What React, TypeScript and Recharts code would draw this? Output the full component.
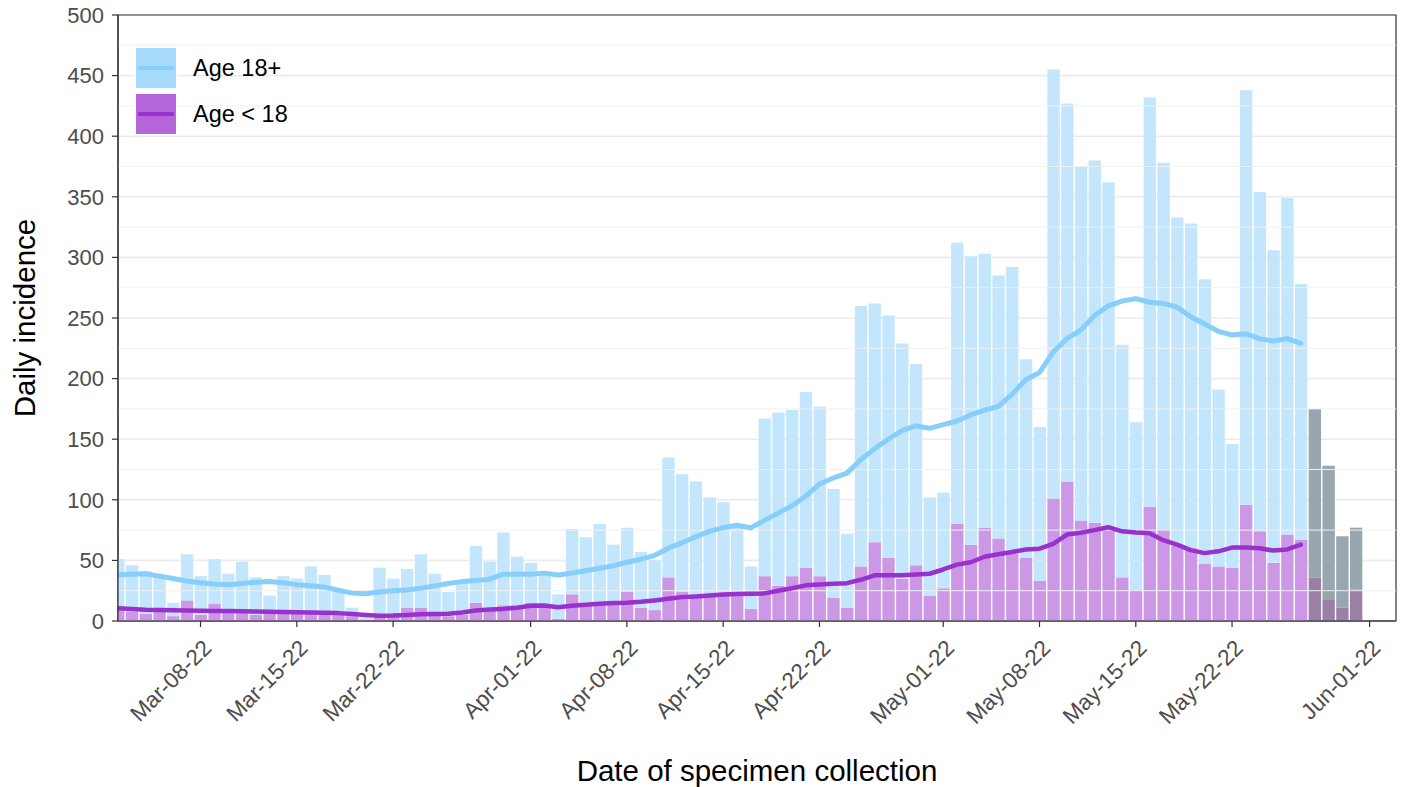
import React from 'react';
import {
  ComposedChart, Bar, Line, XAxis, YAxis, CartesianGrid, ReferenceLine, ReferenceArea, Cell, Label,
} from 'recharts';

// Day 0 = 2022-03-02
const adultCases = [
  42, 38, 35, 30, 11, 38, 32, 37, 30, 40,
  31, 13, 30, 28, 38, 32, 20, 7, 2, 40,
  31, 32, 44, 34, 20, 28, 47, 39, 60, 40,
  33, 27, 20, 54, 54, 66, 48, 53, 46, 41,
  99, 97, 95, 81, 75, 59, 35, 130, 143, 137,
  145, 140, 90, 61, 215, 197, 200, 194, 166, 81,
  79, 232, 238, 226, 217, 236, 164, 127, 354, 312,
  292, 299, 284, 192, 139, 338, 303, 271, 268, 235,
  146, 102, 342, 280, 258, 278, 211, 139, 110, 59,
  51,
];
const childCases = [
  9, 8, 6, 8, 4, 17, 5, 14, 9, 9,
  5, 8, 7, 7, 7, 6, 5, 4, 1, 4,
  4, 11, 11, 5, 4, 5, 15, 10, 13, 13,
  15, 13, 2, 22, 15, 14, 15, 24, 11, 9,
  36, 24, 20, 21, 23, 21, 10, 37, 29, 37,
  44, 37, 19, 11, 45, 65, 52, 35, 46, 21,
  27, 80, 63, 77, 68, 56, 52, 33, 101, 115,
  83, 81, 78, 36, 25, 94, 75, 62, 60, 47,
  45, 44, 96, 74, 48, 71, 67, 36, 18, 11,
  26,
];
const adultAvg = [
  38, 38.5, 39, 37, 35, 33, 31.5, 30.5, 30, 31,
  32, 32.5, 31.5, 30, 29, 28, 25.5, 23, 22.5, 24,
  25, 25.5, 27, 29, 31, 32.5, 33.5, 34.5, 38.5, 38.5,
  38.5, 39.5, 38, 39.5, 41.5, 43.5, 45.5, 48.5, 51, 54,
  60, 64.5, 69.5, 74, 77, 79, 77, 83, 89, 95,
  103, 113, 118, 122, 133, 142, 150, 157, 161, 159,
  162, 165, 170, 174, 177, 187, 199, 205, 222, 233,
  240, 252, 260, 264, 266, 263, 262, 259, 251, 245,
  239, 236, 237, 233, 231, 233, 229,
];
const childAvg = [
  10.6, 10, 9.3, 9, 8.8, 8.7, 8.5, 8.3, 8.2, 8,
  7.8, 7.6, 7.4, 7.3, 7.1, 6.9, 6.5, 5.8, 5, 4.3,
  4.5, 5, 5.5, 5.8, 6, 7, 8.7, 9.5, 10, 11,
  12.5, 12.8, 11.4, 12.5, 13.5, 14.2, 14.8, 15, 15.8, 17,
  18.3, 19.7, 20.3, 21, 21.8, 22.3, 22.5, 22.8, 25, 27,
  29.4, 30.2, 30.8, 31.2, 34, 37.7, 37.7, 37.7, 38.3, 39,
  42.5, 46.5, 48.5, 53, 55, 57, 59, 59.7, 63.6, 71.3,
  72.8, 75, 77.4, 74, 73, 72.5, 66.7, 63, 58.5, 56,
  57.5, 60.6, 60.6, 60, 58.1, 59, 63,
];
const firstIncompleteDay = 87;

const tickDays = [6, 13, 20, 30, 37, 44, 51, 60, 67, 74, 81, 91];
const tickLabels = [
  'Mar-08-22', 'Mar-15-22', 'Mar-22-22', 'Apr-01-22', 'Apr-08-22', 'Apr-15-22',
  'Apr-22-22', 'May-01-22', 'May-08-22', 'May-15-22', 'May-22-22', 'Jun-01-22',
];
const yTicks = [0, 50, 100, 150, 200, 250, 300, 350, 400, 450, 500];
const yMinor = [25, 75, 125, 175, 225, 275, 325, 375, 425, 475];

const legendItems = [
  { label: 'Age 18+', box: '#a5dafb', line: '#87cefa' },
  { label: 'Age < 18', box: '#b365d9', line: '#9932cc' },
];

const data = adultCases.map((a, i) => ({
  day: i,
  adult: a,
  child: childCases[i],
  adultAvg: adultAvg[i],
  childAvg: childAvg[i],
}));

const FONT = '"Liberation Sans", Arial, Helvetica, sans-serif';
const X_MAX = 92.92;

const XTick = (props: any) => {
  const { x, y, payload } = props;
  const idx = tickDays.indexOf(payload.value);
  return (
    <g transform={`translate(${x + 1},${y + 9})`}>
      <text x={0} y={0} dy="0.71em" transform="rotate(-45)" textAnchor="end"
        fill="#4d4d4d" fontSize={22.5} fontFamily={FONT}>
        {idx >= 0 ? tickLabels[idx] : ''}
      </text>
    </g>
  );
};

export default function App() {
  return (
    <div style={{ position: 'absolute', left: 0, top: 0, width: 1404, height: 787, background: '#fff' }}>
      <ComposedChart width={1404} height={787} data={data}
        margin={{ top: 15, right: 8, bottom: 0, left: 0 }}>
        <CartesianGrid vertical={false} stroke="#ebebeb" strokeWidth={1.6} />
        {yMinor.map((v) => (
          <ReferenceLine key={v} y={v} stroke="#f0f0f0" strokeWidth={1} />
        ))}
        <XAxis dataKey="day" type="number" domain={[0, X_MAX]} allowDataOverflow
          ticks={tickDays} interval={0} tick={<XTick />} tickSize={6}
          tickLine={{ stroke: '#333', strokeWidth: 1.2 }} axisLine={{ stroke: '#333', strokeWidth: 1.2 }}
          height={166}>
          <Label content={(p: any) => {
            const vb = p.viewBox;
            return (
              <text x={vb.x + vb.width / 2} y={781} textAnchor="middle" fontSize={29.5}
                fontFamily={FONT} fill="#000">Date of specimen collection</text>
            );
          }} />
        </XAxis>
        <YAxis type="number" domain={[0, 500]} ticks={yTicks} interval={0} width={118}
          tickSize={6} tickMargin={8}
          tick={{ fill: '#4d4d4d', fontSize: 22, fontFamily: FONT }}
          tickLine={{ stroke: '#333', strokeWidth: 1.2 }} axisLine={{ stroke: '#333', strokeWidth: 1.2 }}>
          <Label content={(p: any) => {
            const vb = p.viewBox;
            const cy = vb.y + vb.height / 2;
            return (
              <text x={35} y={cy} transform={`rotate(-90, 35, ${cy})`} textAnchor="middle"
                fontSize={29.5} fontFamily={FONT} fill="#000">Daily incidence</text>
            );
          }} />
        </YAxis>
        <Bar dataKey="child" stackId="a" barSize={12.37} fill="#cc98e6" isAnimationActive={false}>
          {data.map((d) => (
            <Cell key={d.day} fill={d.day >= firstIncompleteDay ? '#9a80a4' : '#cc98e6'} />
          ))}
        </Bar>
        <Bar dataKey="adult" stackId="a" barSize={12.37} fill="#c3e6fc" isAnimationActive={false}>
          {data.map((d) => (
            <Cell key={d.day} fill={d.day >= firstIncompleteDay ? '#98a6b0' : '#c3e6fc'} />
          ))}
        </Bar>
        <Line dataKey="adultAvg" type="linear" stroke="#87cefa" strokeWidth={5} dot={false}
          activeDot={false} isAnimationActive={false} strokeLinejoin="round" strokeLinecap="round" />
        <Line dataKey="childAvg" type="linear" stroke="#9932cc" strokeWidth={4.5} dot={false}
          activeDot={false} isAnimationActive={false} strokeLinejoin="round" strokeLinecap="round" />
        <ReferenceArea x1={0} x2={X_MAX} y1={0} y2={500} fill="none" fillOpacity={0}
          stroke="#333" strokeWidth={1.2} ifOverflow="visible" />
      </ComposedChart>
      <div style={{ position: 'absolute', left: 135, top: 45, fontFamily: FONT }}>
        {legendItems.map((it) => (
          <div key={it.label} style={{ display: 'flex', alignItems: 'center', height: 46 }}>
            <div style={{
              width: 42, height: 42, background: it.box, border: '1px solid #fff', boxSizing: 'border-box',
              display: 'flex', alignItems: 'center', justifyContent: 'center',
            }}>
              <div style={{ width: 36, height: 4, background: it.line }} />
            </div>
            <span style={{ marginLeft: 16, fontSize: 23.5, color: '#000' }}>{it.label}</span>
          </div>
        ))}
      </div>
    </div>
  );
}
